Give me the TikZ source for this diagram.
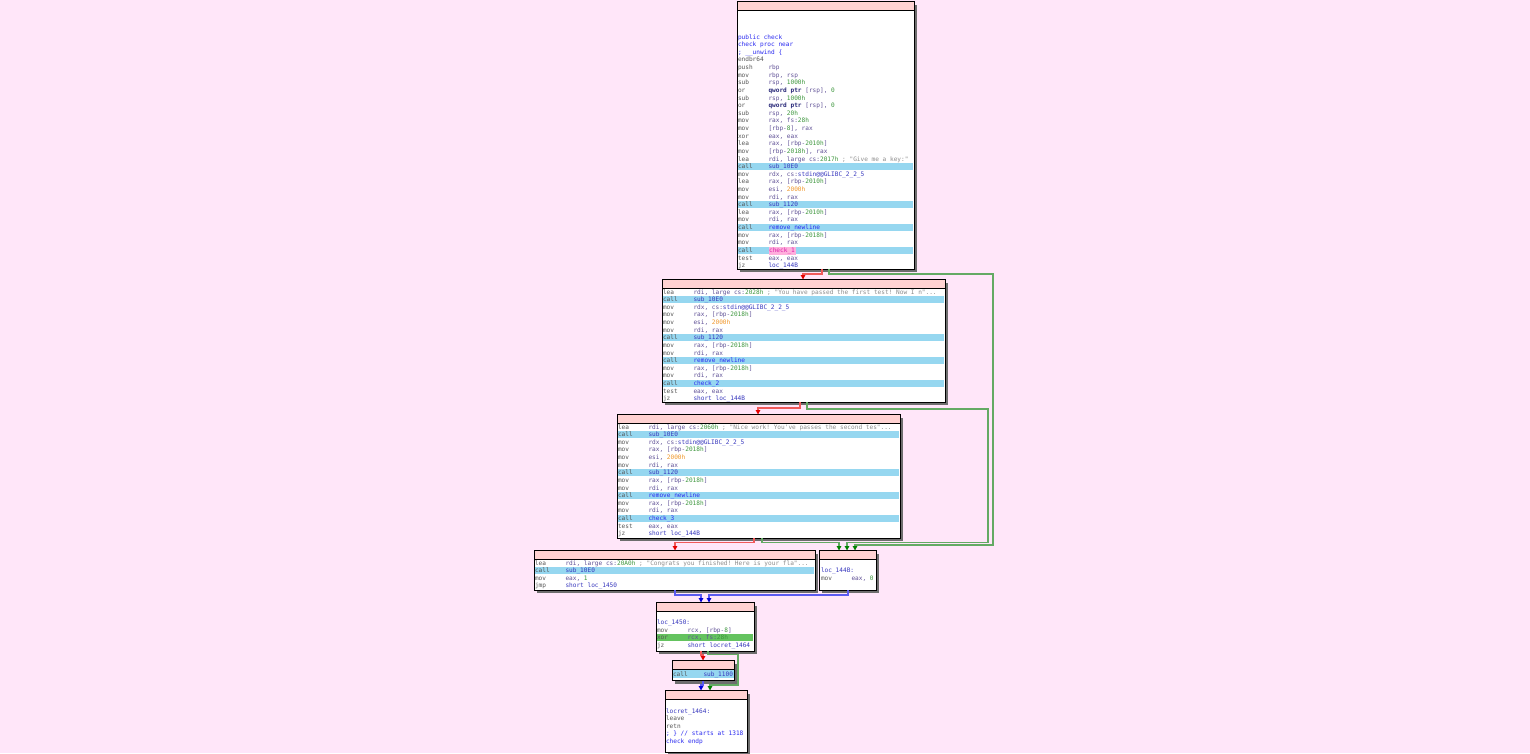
\documentclass[tikz,border=0pt]{standalone}
\usepackage{fontspec}
\setmonofont{DejaVu Sans Mono}
\usetikzlibrary{arrows.meta}
\definecolor{cbg}{RGB}{255,230,249}
\definecolor{chdr}{RGB}{255,210,210}
\definecolor{cband}{RGB}{150,215,240}
\definecolor{cgband}{RGB}{100,195,95}
\definecolor{cmn}{RGB}{85,85,85}
\definecolor{creg}{RGB}{95,80,150}
\definecolor{cnum}{RGB}{60,150,60}
\definecolor{corg}{RGB}{240,150,40}
\definecolor{cname}{RGB}{55,55,190}
\definecolor{cblue}{RGB}{40,40,240}
\definecolor{ccom}{RGB}{140,140,140}
\definecolor{ckw}{RGB}{40,40,120}
\definecolor{cpink}{RGB}{255,175,220}
\definecolor{cmag}{RGB}{220,30,170}
\definecolor{cshd}{RGB}{110,110,110}
\definecolor{credl}{RGB}{240,90,90}
\definecolor{credt}{RGB}{230,0,0}
\definecolor{cgrnl}{RGB}{100,170,100}
\definecolor{cgrnt}{RGB}{0,130,0}
\definecolor{cblul}{RGB}{90,90,240}
\definecolor{cblut}{RGB}{0,0,220}
\newcommand\idaf{\ttfamily\fontsize{6.12pt}{7.6pt}\selectfont\frenchspacing}
\newcommand\Rg[1]{\textcolor{creg}{#1}}
\newcommand\Nm[1]{\textcolor{cnum}{#1}}
\newcommand\Or[1]{\textcolor{corg}{#1}}
\newcommand\Nb[1]{\textcolor{cname}{#1}}
\newcommand\Bb[1]{\textcolor{cblue}{#1}}
\newcommand\Cm[1]{\textcolor{ccom}{#1}}
\newcommand\Kw[1]{\textcolor{ckw}{\bfseries #1}}
\newcommand\Pk[1]{{\setlength\fboxsep{0.6pt}\colorbox{cpink}{\textcolor{cmag}{#1}}}}
\newcounter{tn}
\newcommand\iL[3]{\stepcounter{tn}\node[txt] (t\arabic{tn}) at (\bx,{\by+7.62*#1+1.5}) {\makebox[30.5pt][l]{\color{cmn}#2}#3};}
\newcommand\iF[2]{\stepcounter{tn}\node[txt] (t\arabic{tn}) at (\bx,{\by+7.62*#1+1.5}) {#2};}
\newcommand\iB[2][cband]{\fill[#1] (\bl,{\by+7.62*#2-2.6}) rectangle (\br,{\by+7.62*#2+4.6});}
\newcommand\blk[5]{%
  \fill[cshd] ({#2+3},{#3+3}) rectangle ({#4+3},{#5+3});
  \pgfmathsetmacro\bw{#4-#2}\pgfmathsetmacro\bh{#5-#3}%
  \node[blockbox, anchor=north west, minimum width=\bw pt, minimum height=\bh pt] (#1) at (#2,#3) {};
  \fill[chdr] (#1.north west) rectangle ([yshift=-9pt]#1.north east);
  \draw[bd] ([yshift=-9pt]#1.north west) -- ([yshift=-9pt]#1.north east);
  \draw[bd] (#1.north west) rectangle (#1.south east);
  \def\bl{#2+0.6}\def\br{#4-0.6}%
}
\begin{document}
\begin{tikzpicture}[x=1pt,y=-1pt,
  txt/.style={anchor=west,inner sep=0pt,outer sep=0pt,text height=4.6pt,text depth=1.4pt,font=\idaf},
  blockbox/.style={fill=white,draw=none,inner sep=0pt,outer sep=0pt},
  bd/.style={draw=black,line width=0.9pt},
  ered/.style={draw=credl,line width=1.4pt,-{Triangle[length=4.5pt,width=4.5pt,color=credt]}},
  egrn/.style={draw=cgrnl,line width=1.4pt,-{Triangle[length=4.5pt,width=4.5pt,color=cgrnt]}},
  eblu/.style={draw=cblul,line width=1.4pt,-{Triangle[length=4.5pt,width=4.5pt,color=cblut]}}]
\useasboundingbox (0,0) rectangle (1530,753);
\fill[cbg] (0,0) rectangle (1530,753);

% ---------- block 1
\blk{b1}{737}{1.5}{914}{269}
\def\bx{738}\def\by{36}
\iB{17}\iB{22}\iB{25}\iB{28}
\iF{0}{\Bb{public check}}
\iF{1}{\Bb{check proc near}}
\iF{2}{\Bb{; \_\_unwind \{}}
\iF{3}{\textcolor{cmn}{endbr64}}
\iL{4}{push}{\Rg{rbp}}
\iL{5}{mov}{\Rg{rbp, rsp}}
\iL{6}{sub}{\Rg{rsp, }\Nm{1000h}}
\iL{7}{or}{\Kw{qword ptr} \Rg{[rsp], }\Nm{0}}
\iL{8}{sub}{\Rg{rsp, }\Nm{1000h}}
\iL{9}{or}{\Kw{qword ptr} \Rg{[rsp], }\Nm{0}}
\iL{10}{sub}{\Rg{rsp, }\Nm{20h}}
\iL{11}{mov}{\Rg{rax, fs:}\Nm{28h}}
\iL{12}{mov}{\Rg{[rbp-}\Nm{8}\Rg{], rax}}
\iL{13}{xor}{\Rg{eax, eax}}
\iL{14}{lea}{\Rg{rax, [rbp-}\Nm{2010h}\Rg{]}}
\iL{15}{mov}{\Rg{[rbp-}\Nm{2018h}\Rg{], rax}}
\iL{16}{lea}{\Rg{rdi, large cs:}\Nm{2017h} \Cm{; "Give me a key:"}}
\iL{17}{call}{\Nb{sub\_10E0}}
\iL{18}{mov}{\Rg{rdx, cs:}\Nb{stdin@@GLIBC\_2\_2\_5}}
\iL{19}{lea}{\Rg{rax, [rbp-}\Nm{2010h}\Rg{]}}
\iL{20}{mov}{\Rg{esi, }\Or{2000h}}
\iL{21}{mov}{\Rg{rdi, rax}}
\iL{22}{call}{\Nb{sub\_1120}}
\iL{23}{lea}{\Rg{rax, [rbp-}\Nm{2010h}\Rg{]}}
\iL{24}{mov}{\Rg{rdi, rax}}
\iL{25}{call}{\Bb{remove\_newline}}
\iL{26}{mov}{\Rg{rax, [rbp-}\Nm{2018h}\Rg{]}}
\iL{27}{mov}{\Rg{rdi, rax}}
\iL{28}{call}{\Pk{check\_1}}
\iL{29}{test}{\Rg{eax, eax}}
\iL{30}{jz}{\Nb{loc\_144B}}

% ---------- block 2
\blk{b2}{662}{279.5}{945}{402}
\def\bx{663}\def\by{291}
\iB{1}\iB{6}\iB{9}\iB{12}
\iL{0}{lea}{\Rg{rdi, large cs:}\Nm{2028h} \Cm{; "You have passed the first test! Now I n"...}}
\iL{1}{call}{\Nb{sub\_10E0}}
\iL{2}{mov}{\Rg{rdx, cs:}\Nb{stdin@@GLIBC\_2\_2\_5}}
\iL{3}{mov}{\Rg{rax, [rbp-}\Nm{2018h}\Rg{]}}
\iL{4}{mov}{\Rg{esi, }\Or{2000h}}
\iL{5}{mov}{\Rg{rdi, rax}}
\iL{6}{call}{\Nb{sub\_1120}}
\iL{7}{mov}{\Rg{rax, [rbp-}\Nm{2018h}\Rg{]}}
\iL{8}{mov}{\Rg{rdi, rax}}
\iL{9}{call}{\Bb{remove\_newline}}
\iL{10}{mov}{\Rg{rax, [rbp-}\Nm{2018h}\Rg{]}}
\iL{11}{mov}{\Rg{rdi, rax}}
\iL{12}{call}{\Bb{check\_2}}
\iL{13}{test}{\Rg{eax, eax}}
\iL{14}{jz}{\Nb{short loc\_144B}}

% ---------- block 3
\blk{b3}{617}{414.5}{900}{538}
\def\bx{618}\def\by{426}
\iB{1}\iB{6}\iB{9}\iB{12}
\iL{0}{lea}{\Rg{rdi, large cs:}\Nm{2060h} \Cm{; "Nice work! You've passes the second tes"...}}
\iL{1}{call}{\Nb{sub\_10E0}}
\iL{2}{mov}{\Rg{rdx, cs:}\Nb{stdin@@GLIBC\_2\_2\_5}}
\iL{3}{mov}{\Rg{rax, [rbp-}\Nm{2018h}\Rg{]}}
\iL{4}{mov}{\Rg{esi, }\Or{2000h}}
\iL{5}{mov}{\Rg{rdi, rax}}
\iL{6}{call}{\Nb{sub\_1120}}
\iL{7}{mov}{\Rg{rax, [rbp-}\Nm{2018h}\Rg{]}}
\iL{8}{mov}{\Rg{rdi, rax}}
\iL{9}{call}{\Bb{remove\_newline}}
\iL{10}{mov}{\Rg{rax, [rbp-}\Nm{2018h}\Rg{]}}
\iL{11}{mov}{\Rg{rdi, rax}}
\iL{12}{call}{\Bb{check\_3}}
\iL{13}{test}{\Rg{eax, eax}}
\iL{14}{jz}{\Nb{short loc\_144B}}

% ---------- block 4
\blk{b4}{534}{550.5}{815}{590}
\def\bx{535}\def\by{562}
\iB{1}
\iL{0}{lea}{\Rg{rdi, large cs:}\Nm{20A0h} \Cm{; "Congrats you finished! Here is your fla"...}}
\iL{1}{call}{\Nb{sub\_10E0}}
\iL{2}{mov}{\Rg{eax, }\Nm{1}}
\iL{3}{jmp}{\Nb{short loc\_1450}}

% ---------- loc_144B
\blk{b5}{819}{550.5}{876}{590}
\def\bx{821}\def\by{562}
\iF{1}{\Nb{loc\_144B:}}
\iL{2}{mov}{\Rg{eax, }\Nm{0}}

% ---------- loc_1450
\blk{b6}{656}{602.5}{754}{651}
\def\bx{657}\def\by{614}
\iB[cgband]{3}
\iF{1}{\Nb{loc\_1450:}}
\iL{2}{mov}{\Rg{rcx, [rbp-}\Nm{8}\Rg{]}}
\iL{3}{xor}{\Rg{rcx, fs:}\Nm{28h}}
\iL{4}{jz}{\Nb{short locret\_1464}}

% ---------- call sub_1100
\blk{b7}{672}{660.5}{734.5}{680.5}
\def\bx{673}\def\by{673}
\iB{0}
\iL{0}{call}{\Nb{sub\_1100}}

% ---------- locret_1464
\blk{b8}{665}{690.5}{747}{752}
\def\bx{666}\def\by{710}
\iF{0}{\Nb{locret\_1464:}}
\iF{1}{\textcolor{cmn}{leave}}
\iF{2}{\textcolor{cmn}{retn}}
\iF{3}{\Bb{; \} // starts at 1318}}
\iF{4}{\Bb{check endp}}

% ---------- edges
\draw[ered] (822,0 |- b1.south) -- (822,274) -- (803,274) -- (803,0 |- b2.north);
\draw[egrn] (829,0 |- b1.south) -- (829,274) -- (993,274) -- (993,545) -- (855,545) -- (855,0 |- b5.north);
\draw[ered] (800,0 |- b2.south) -- (800,408) -- (758,408) -- (758,0 |- b3.north);
\draw[egrn] (807,0 |- b2.south) -- (807,409) -- (988,409) -- (988,542.5) -- (847,542.5) -- (847,0 |- b5.north);
\draw[ered] (754,0 |- b3.south) -- (754,542.5) -- (675,542.5) -- (675,0 |- b4.north);
\draw[egrn] (762,0 |- b3.south) -- (762,542.5) -- (839,542.5) -- (839,0 |- b5.north);
\draw[eblu] (675,0 |- b4.south) -- (675,595) -- (701,595) -- (701,0 |- b6.north);
\draw[eblu] (848,0 |- b5.south) -- (848,595) -- (709,595) -- (709,0 |- b6.north);
\draw[ered] (701,0 |- b6.south) -- (701,655) -- (703,655) -- (703,0 |- b7.north);
\draw[egrn] (708,0 |- b6.south) -- (708,654.5) -- (738,654.5) -- (738,685) -- (710,685) -- (710,0 |- b8.north);
\draw[eblu] (703,0 |- b7.south) -- (703,685) -- (701,685) -- (701,0 |- b8.north);
\end{tikzpicture}
\end{document}
